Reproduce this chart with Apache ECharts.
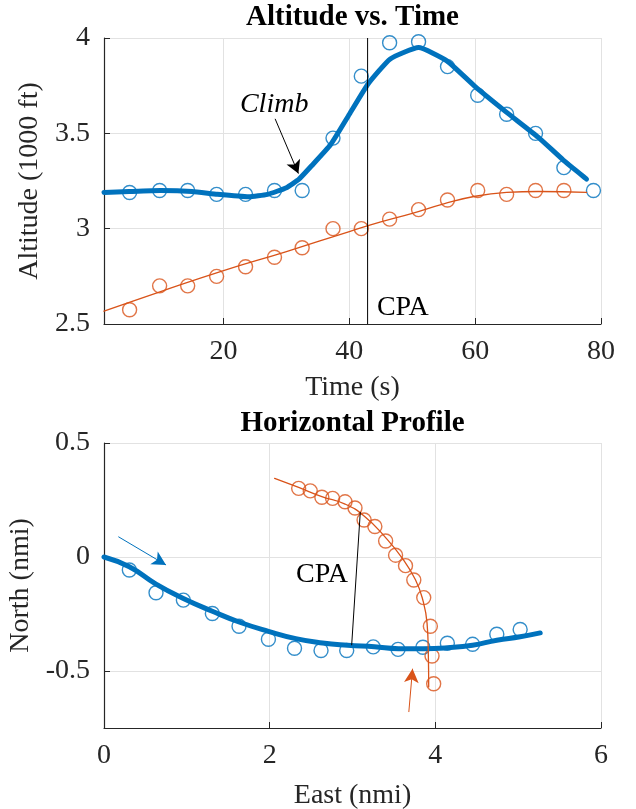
<!DOCTYPE html>
<html>
<head>
<meta charset="utf-8">
<script src="https://cdn.jsdelivr.net/npm/echarts@6/dist/echarts.min.js"></script>
<style>html,body{margin:0;padding:0;background:#fff}#c{width:636px;height:809px}</style>
</head>
<body>
<div id="c"></div>
<script>
// ---------- Altitude vs. Time ----------
const timeOwn   = [5.07, 9.84, 14.3, 18.9, 23.5, 28.1, 32.5, 37.4, 41.9, 46.4, 51.0, 55.6, 60.4, 65.0, 69.6, 74.1, 78.8];
const altOwn    = [3.19, 3.20, 3.20, 3.18, 3.18, 3.20, 3.20, 3.475, 3.80, 3.975, 3.98, 3.85, 3.70, 3.60, 3.50, 3.32, 3.20];
const timeOther = [5.07, 9.84, 14.3, 18.9, 23.5, 28.1, 32.5, 37.4, 41.9, 46.4, 51.0, 55.6, 60.4, 65.0, 69.6, 74.1];
const altOther  = [2.575, 2.70, 2.70, 2.75, 2.80, 2.85, 2.90, 3.00, 3.00, 3.05, 3.10, 3.15, 3.20, 3.18, 3.20, 3.20];
const fitTimeOwn = [1, 5, 10, 15, 19, 24, 27, 30, 32, 34, 37, 40, 43, 46.5, 51, 55.5, 60, 65, 70, 74, 77.7];
const fitAltOwn  = [3.19, 3.195, 3.20, 3.195, 3.18, 3.167, 3.18, 3.215, 3.26, 3.33, 3.44, 3.60, 3.76, 3.89, 3.95, 3.88, 3.745, 3.61, 3.48, 3.36, 3.26];
const fitTimeOther = [1, 10, 20, 30, 40, 45, 50, 55, 60, 65, 70, 77.7];
const fitAltOther  = [2.567, 2.67, 2.78, 2.88, 2.985, 3.035, 3.08, 3.13, 3.17, 3.19, 3.195, 3.19];
const cpaTime = 42.9;
const altTicks = [2.5, 3, 3.5, 4];
const climbArrow = [[28.2, 3.576], [31.9, 3.289]];
const climbLabelPos = [28.05, 3.651];
const cpaTopLabelPos = [44.3, 2.585];

// ---------- Horizontal Profile ----------
const eastOwn  = [0.306, 0.628, 0.958, 1.308, 1.630, 1.985, 2.30, 2.62, 2.93, 3.25, 3.55, 3.85, 4.145, 4.45, 4.742, 5.024];
const northOwn = [-0.057, -0.157, -0.189, -0.248, -0.304, -0.361, -0.40, -0.41, -0.41, -0.394, -0.405, -0.396, -0.378, -0.383, -0.339, -0.318];
const eastOther  = [2.35, 2.49, 2.63, 2.76, 2.91, 3.03, 3.14, 3.27, 3.40, 3.52, 3.64, 3.74, 3.86, 3.94, 3.96, 3.98];
const northOther = [0.301, 0.29, 0.262, 0.257, 0.242, 0.215, 0.162, 0.134, 0.07, 0.008, -0.038, -0.101, -0.178, -0.304, -0.434, -0.556];
const fitEastOwn  = [0, 0.306, 0.628, 0.958, 1.308, 1.63, 1.985, 2.315, 2.637, 2.94, 3.265, 3.555, 3.857, 4.147, 4.449, 4.742, 5.024, 5.266];
const fitNorthOwn = [0, -0.043, -0.119, -0.182, -0.238, -0.285, -0.326, -0.358, -0.377, -0.387, -0.394, -0.402, -0.402, -0.398, -0.387, -0.365, -0.35, -0.333];
const fitEastOther  = [2.06, 2.35, 2.63, 2.91, 3.14, 3.40, 3.60, 3.76, 3.85, 3.90, 3.915, 3.92];
const fitNorthOther = [0.345, 0.305, 0.265, 0.232, 0.18, 0.085, -0.005, -0.10, -0.19, -0.29, -0.42, -0.57];
const cpaSegment = [[3.094, 0.197], [2.99, -0.387]];
const ownArrow   = [[0.173, 0.089], [0.749, -0.035]];
const otherArrow = [[3.68, -0.68], [3.725, -0.49]];
const cpaBottomLabelPos = [2.632, -0.079];

const BLUE = '#0072BD', ORANGE = '#D95319', AX = '#262626', GRID = '#e2e2e2';
const FONT = '"Liberation Serif","Times New Roman",serif';
const FS = 28;

const zip = (a, b) => a.map((v, i) => [v, b[i]]);

function xAxisCfg(grid, extra, showMin) {
  return Object.assign({
    gridIndex: grid, type: 'value',
    axisLine: { show: true, onZero: false, lineStyle: { color: AX, width: 1.2 } },
    axisTick: { show: true, inside: true, length: 6, lineStyle: { color: AX } },
    axisLabel: { showMinLabel: showMin, margin: 14, color: AX, fontFamily: FONT, fontSize: FS },
    splitLine: { show: true, lineStyle: { color: GRID, width: 1 } },
    nameLocation: 'middle',
    nameTextStyle: { color: AX, fontFamily: FONT, fontSize: FS }
  }, extra);
}
function yAxisCfg(grid, extra, showMin) {
  return Object.assign({
    gridIndex: grid, type: 'value',
    axisLine: { show: true, onZero: false, lineStyle: { color: AX, width: 1.2 } },
    axisTick: { show: true, inside: true, length: 6, lineStyle: { color: AX } },
    axisLabel: { showMinLabel: showMin, margin: 14, color: AX, fontFamily: FONT, fontSize: FS },
    splitLine: { show: true, lineStyle: { color: GRID, width: 1 } },
    nameLocation: 'middle',
    nameTextStyle: { color: AX, fontFamily: FONT, fontSize: FS }
  }, extra);
}
function markers(x, y, color, xi) {
  return { type: 'scatter', xAxisIndex: xi, yAxisIndex: xi, data: zip(x, y), symbol: 'circle', symbolSize: 14,
    itemStyle: { color: 'rgba(0,0,0,0)', borderColor: color, borderWidth: 1.4 }, silent: true };
}
function fitLine(x, y, color, w, xi, smooth) {
  return { type: 'line', xAxisIndex: xi, yAxisIndex: xi, data: zip(x, y), showSymbol: false, symbol: 'none',
    smooth: smooth, lineStyle: { color: color, width: w, cap: 'round', join: 'round' }, silent: true };
}
function textMark(pos, text, xi, position, italic) {
  return { type: 'scatter', xAxisIndex: xi, yAxisIndex: xi, data: [pos], symbolSize: 1,
    itemStyle: { color: 'rgba(0,0,0,0)' }, silent: true,
    label: { show: true, position: position, distance: 0, formatter: text, color: '#000',
      textBorderWidth: 0, textShadowBlur: 0, opacity: 1,
      fontFamily: FONT, fontSize: FS, fontStyle: italic ? 'italic' : 'normal' } };
}

const option = {
  backgroundColor: '#fff',
  animation: false,
  grid: [
    { left: 104, top: 38, width: 497, height: 286, outerBoundsMode: 'none', containLabel: false },
    { left: 104, top: 443, width: 497, height: 285, outerBoundsMode: 'none', containLabel: false }
  ],
  xAxis: [
    xAxisCfg(0, { min: 1, max: 80, splitNumber: 4, name: 'Time (s)', nameGap: 50 }, false),
    xAxisCfg(1, { min: 0, max: 6, interval: 2, name: 'East (nmi)', nameGap: 54 }, true)
  ],
  yAxis: [
    yAxisCfg(0, { min: 2.5, max: 4, interval: 0.5, name: 'Altitude (1000 ft)', nameGap: 54 }, true),
    yAxisCfg(1, { min: -0.75, max: 0.5, splitNumber: 2, name: 'North (nmi)', nameGap: 64 }, false)
  ],
  graphic: [
    { type: 'text', x: 352.5, y: 18, style: { text: 'Altitude vs. Time', fill: '#000', font: 'bold 29px ' + FONT, textAlign: 'center', textVerticalAlign: 'middle', align: 'center', verticalAlign: 'middle' } },
    { type: 'text', x: 352.5, y: 424, style: { text: 'Horizontal Profile', fill: '#000', font: 'bold 29px ' + FONT, textAlign: 'center', textVerticalAlign: 'middle', align: 'center', verticalAlign: 'middle' } }
  ],
  series: [
    // top
    markers(timeOwn, altOwn, BLUE, 0),
    fitLine(fitTimeOwn, fitAltOwn, BLUE, 5, 0, 0.15),
    markers(timeOther, altOther, ORANGE, 0),
    fitLine(fitTimeOther, fitAltOther, ORANGE, 1.3, 0, true),
    { type: 'line', xAxisIndex: 0, yAxisIndex: 0, data: [[cpaTime, altTicks[0]], [cpaTime, altTicks[3]]], showSymbol: false, symbol: 'none',
      lineStyle: { color: '#000', width: 1 }, silent: true,
      markLine: { silent: true, symbol: ['none', 'arrow'], symbolSize: [11, 13], label: { show: false },
        lineStyle: { color: '#000', width: 1, type: 'solid' },
        data: [[{ coord: climbArrow[0] }, { coord: climbArrow[1] }]] } },
    textMark(climbLabelPos, 'Climb', 0, 'inside', true),
    textMark(cpaTopLabelPos, 'CPA', 0, 'right', false),
    // bottom
    markers(eastOwn, northOwn, BLUE, 1),
    fitLine(fitEastOwn, fitNorthOwn, BLUE, 5, 1, true),
    markers(eastOther, northOther, ORANGE, 1),
    fitLine(fitEastOther, fitNorthOther, ORANGE, 1.3, 1, true),
    { type: 'line', xAxisIndex: 1, yAxisIndex: 1, data: cpaSegment, showSymbol: false, symbol: 'none',
      lineStyle: { color: '#000', width: 1 }, silent: true },
    { type: 'line', xAxisIndex: 1, yAxisIndex: 1, data: [], silent: true,
      markLine: { silent: true, symbol: ['none', 'arrow'], symbolSize: [11, 14], label: { show: false },
        lineStyle: { color: BLUE, width: 1, type: 'solid' },
        data: [[{ coord: ownArrow[0] }, { coord: ownArrow[1] }]] } },
    { type: 'line', xAxisIndex: 1, yAxisIndex: 1, data: [], silent: true,
      markLine: { silent: true, symbol: ['none', 'arrow'], symbolSize: [11, 14], label: { show: false },
        lineStyle: { color: ORANGE, width: 1, type: 'solid' },
        data: [[{ coord: otherArrow[0] }, { coord: otherArrow[1] }]] } },
    textMark(cpaBottomLabelPos, 'CPA', 1, 'inside', false)
  ]
};

const chart = echarts.init(document.getElementById('c'), null, { renderer: 'canvas' });
chart.setOption(option);
</script>
</body>
</html>
